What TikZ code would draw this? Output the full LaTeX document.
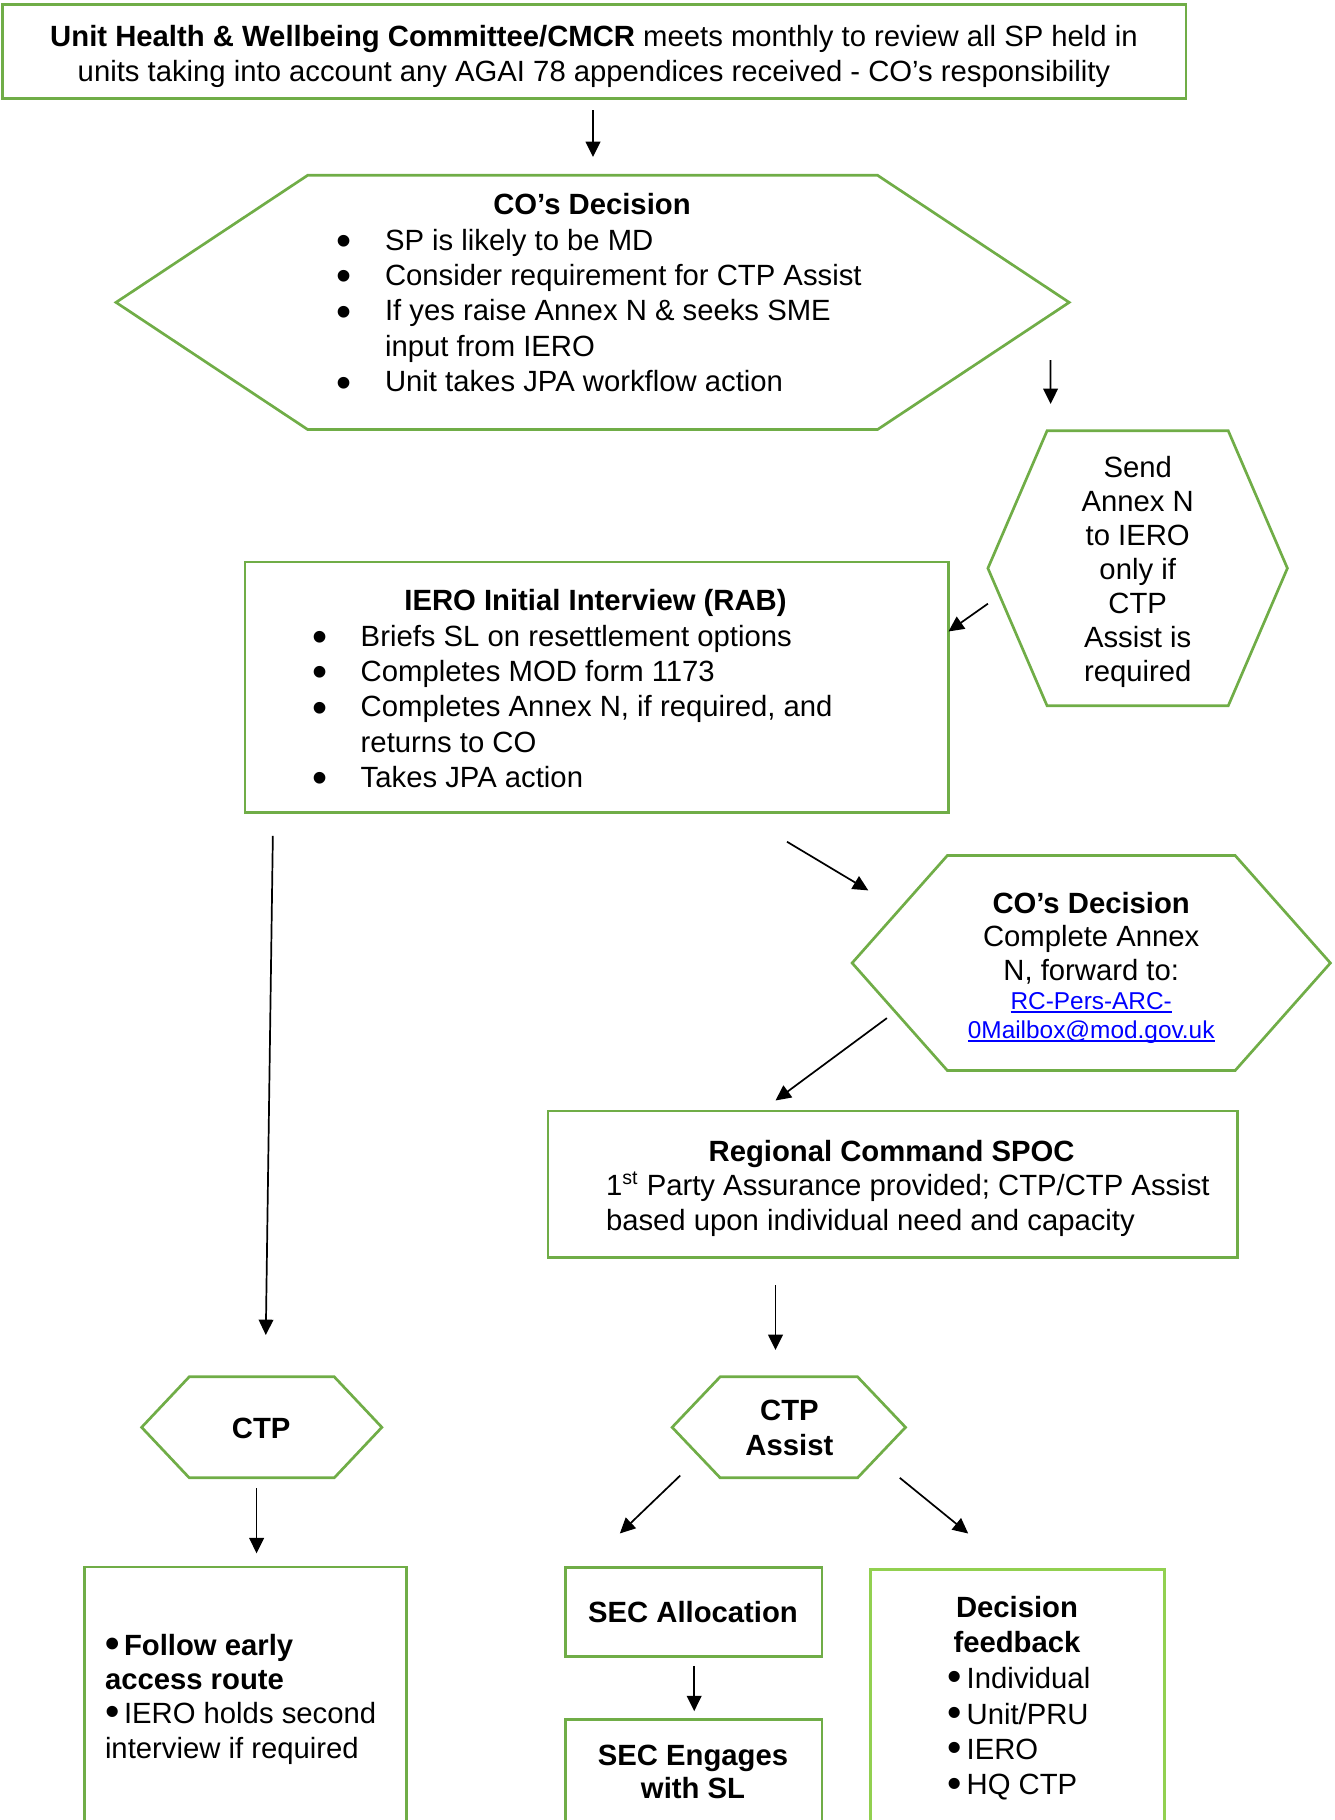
\documentclass[tikz,border=0pt]{standalone}
\usepackage{fontspec}
\usepackage{graphicx}
\setmainfont{Liberation Sans}
\usetikzlibrary{arrows.meta,calc}
\definecolor{boxgreen}{HTML}{70AD47}
\definecolor{lightgreen}{HTML}{92D050}
\definecolor{linkblue}{HTML}{0000FF}
% bullets: wide indent for the long lists, tight one for the short lists
\newcommand\bul{\makebox[19.9pt][l]{\raisebox{-2.2pt}{\scalebox{1.47}{\textbullet}}}}
\newcommand\ind{\hspace*{19.9pt}}
\newcommand\sbul{\makebox[7.8pt][l]{\raisebox{-0.9pt}{\scalebox{1.4}{\textbullet}}}}
% underlined mail link text
\newlength\lnkw
\newcommand\lnk[1]{\settowidth\lnkw{#1}\rlap{#1}\rule[-1.3pt]{\lnkw}{0.5pt}}
% hexagon outline drawn on a blank rectangular node; #2 = horizontal inset of the corners
\newcommand\hexpath[2]{%
  \draw[hexline] (#1.west) -- ($(#1.north west)+(#2,0)$) -- ($(#1.north east)+(-#2,0)$)
    -- (#1.east) -- ($(#1.south east)+(-#2,0)$) -- ($(#1.south west)+(#2,0)$) -- cycle;}
\begin{document}
\begin{tikzpicture}[x=0.41pt,y=-0.41pt,
  boxnode/.style={draw=boxgreen, line width=1.1pt, inner sep=0, outer sep=0},
  hexnode/.style={inner sep=0, outer sep=0},
  hexline/.style={draw=boxgreen, line width=1.1pt},
  txt/.style={inner sep=0, outer sep=0, font=\fontsize{12}{14.4}\selectfont},
  arr/.style={-{Triangle[length=6.3pt,width=6pt]}, line width=0.7pt}]
\useasboundingbox (0,0) rectangle (1335,1820);
\clip (0,0) rectangle (1335,1820);

% committee box
\node[boxnode, minimum width=485.3pt, minimum height=38.6pt] (top) at (594.15,51.65) {};
\node[txt, anchor=base] (toptxt) at (594,46) {\fontsize{12}{14.35}\selectfont\begin{tabular}[t]{@{}c@{}}\textbf{Unit Health \& Wellbeing Committee/CMCR} meets monthly to review all SP held in\\ units taking into account any AGAI 78 appendices received - CO’s responsibility\end{tabular}};

% first decision
\node[hexnode, minimum width=390.8pt, minimum height=104.2pt] (h1) at (592.6,302.4) {};
\hexpath{h1}{191.6}
\node[txt, anchor=base] (h1title) at (592,214) {\bfseries CO’s Decision};
\node[txt, anchor=base west] (h1list) at (336.5,250) {\fontsize{12}{14.55}\selectfont\begin{tabular}[t]{@{}l@{}}\bul SP is likely to be MD\\ \bul Consider requirement for CTP Assist\\ \bul If yes raise Annex N \& seeks SME\\ \ind input from IERO\\ \bul Unit takes JPA workflow action\end{tabular}};

% send annex N
\node[hexnode, minimum width=122.8pt, minimum height=112.8pt] (h2) at (1137.65,568.25) {};
\hexpath{h2}{59.2}
\node[txt, anchor=base] (h2txt) at (1137.7,477.8) {\fontsize{12}{13.9}\selectfont\begin{tabular}[t]{@{}c@{}}Send\\Annex N\\to IERO\\only if\\CTP\\Assist is\\required\end{tabular}};

% IERO interview
\node[boxnode, minimum width=288.4pt, minimum height=102.8pt] (iero) at (596.75,687.25) {};
\node[txt, anchor=base] (ierotitle) at (595.5,610) {\bfseries IERO Initial Interview (RAB)};
\node[txt, anchor=base west] (ierolist) at (312.2,646) {\fontsize{12}{14.5}\selectfont\begin{tabular}[t]{@{}l@{}}\bul Briefs SL on resettlement options\\ \bul Completes MOD form 1173\\ \bul Completes Annex N, if required, and\\ \ind returns to CO\\ \bul Takes JPA action\end{tabular}};

% second decision
\node[hexnode, minimum width=196.1pt, minimum height=88.1pt] (h3) at (1091.25,963) {};
\hexpath{h3}{95.2}
\node[txt, anchor=base] (h3txt) at (1091.2,913) {\fontsize{12}{13.8}\selectfont\begin{tabular}[t]{@{}c@{}}\textbf{CO’s Decision}\\Complete Annex\\N, forward to:\end{tabular}};
\node[txt, anchor=base] (h3link) at (1091.2,1009.4) {\fontsize{10}{11.9}\selectfont\color{linkblue}\begin{tabular}[t]{@{}c@{}}\lnk{RC-Pers-ARC-}\\\lnk{0Mailbox@mod.gov.uk}\end{tabular}};

% regional command
\node[boxnode, minimum width=282.7pt, minimum height=60pt] (reg) at (892.75,1184.15) {};
\node[txt, anchor=base] (regtitle) at (891.6,1161.6) {\bfseries Regional Command SPOC};
\node[txt, anchor=base west] (regbody) at (606,1195.3) {\fontsize{12}{14.3}\selectfont\begin{tabular}[t]{@{}l@{}}1\textsuperscript{st} Party Assurance provided; CTP/CTP Assist\\based upon individual need and capacity\end{tabular}};

% CTP and CTP Assist
\node[hexnode, minimum width=98.5pt, minimum height=41.4pt] (ctp) at (261.75,1427.3) {};
\hexpath{ctp}{47.6}
\node[txt, anchor=base] (ctptxt) at (261.2,1438) {\bfseries CTP};
\node[hexnode, minimum width=95.7pt, minimum height=41.4pt] (ctpa) at (788.85,1427.3) {};
\hexpath{ctpa}{48}
\node[txt, anchor=base] (ctpatxt) at (789.4,1420.5) {\fontsize{12}{14.3}\selectfont\bfseries\begin{tabular}[t]{@{}c@{}}CTP\\Assist\end{tabular}};

% bottom row
\node[boxnode, minimum width=131.9pt, minimum height=111.9pt] (lbox) at (245.5,1703.5) {};
\node[txt, anchor=base west] (lboxtxt) at (105,1655) {\fontsize{12}{14.1}\selectfont\begin{tabular}[t]{@{}l@{}}\textbf{\sbul Follow early}\\\textbf{access route}\\\sbul IERO holds second\\interview if required\end{tabular}};

\node[boxnode, minimum width=105.2pt, minimum height=36.7pt] (sa) at (693.65,1611.9) {};
\node[txt, anchor=base] (satxt) at (693,1622.5) {\bfseries SEC Allocation};

\node[boxnode, minimum width=105.2pt, minimum height=49.5pt] (se) at (693.65,1779.65) {};
\node[txt, anchor=base] (setxt) at (693,1765.3) {\fontsize{12}{13.6}\selectfont\bfseries\begin{tabular}[t]{@{}c@{}}SEC Engages\\with SL\end{tabular}};

\node[boxnode, draw=lightgreen, minimum width=120.4pt, minimum height=110.9pt] (dec) at (1017.55,1704.75) {};
\node[txt, anchor=base] (dectitle) at (1017,1617.8) {\fontsize{12}{14.3}\selectfont\bfseries\begin{tabular}[t]{@{}c@{}}Decision\\feedback\end{tabular}};
\node[txt, anchor=base west] (declist) at (947.6,1688.7) {\fontsize{12}{14.5}\selectfont\begin{tabular}[t]{@{}l@{}}\sbul Individual\\\sbul Unit/PRU\\\sbul IERO\\\sbul HQ CTP\end{tabular}};

% connectors
\draw[arr] ($(top.south)+(-1.15,11.3)$) -- ($(h1.north)+(0.4,-18.3)$);
\draw[arr] ($(h1.east)+(-18.6,57.6)$) -- ($(h2.north west)+(62.7,-26.7)$);
\draw[arr] ($(h2.west)+(0,35.45)$) -- ($(iero.north east)+(0,69.6)$);
\draw[arr] ($(iero.south west)+(27.8,23.3)$) -- ($(ctp.north)+(4.05,-41.8)$);
\draw[arr] ($(iero.south)+(190.25,29.1)$) -- ($(h3.west)+(16.2,-72.6)$);
\draw[arr] ($(h3.west)+(34.8,55.1)$) -- ($(reg.north)+(-117.25,-10.5)$);
\draw[arr] ($(reg.south)+(-117.25,27.7)$) -- ($(ctpa.north)+(-13.35,-26.8)$);
\draw[arr] ($(ctp.south)+(-5.15,10.5)$) -- ($(lbox.north)+(11.1,-13.7)$);
\draw[arr] ($(ctpa.south west)+(8.1,-2.3)$) -- ($(sa.north west)+(54.5,-33.7)$);
\draw[arr] ($(ctpa.south east)+(-5.8,0)$) -- ($(dec.north west)+(97.5,-36)$);
\draw[arr] ($(sa.south)+(0.55,9.3)$) -- ($(se.north)+(0.55,-8.1)$);
\end{tikzpicture}
\end{document}
